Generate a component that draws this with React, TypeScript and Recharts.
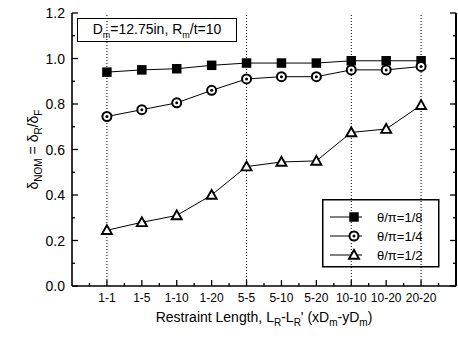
import { LineChart, Line, XAxis, YAxis, ReferenceLine } from "recharts";

const categories = ["1-1", "1-5", "1-10", "1-20", "5-5", "5-10", "5-20", "10-10", "10-20", "20-20"];
const theta18 = [0.94, 0.95, 0.955, 0.97, 0.98, 0.98, 0.98, 0.99, 0.99, 0.99];
const theta14 = [0.745, 0.775, 0.805, 0.86, 0.91, 0.92, 0.92, 0.95, 0.95, 0.965];
const theta12 = [0.245, 0.28, 0.31, 0.4, 0.525, 0.545, 0.55, 0.675, 0.69, 0.795];
const seriesNames = ["θ/π=1/8", "θ/π=1/4", "θ/π=1/2"];
const gridCats = ["1-1", "5-5", "10-10", "20-20"];
const yTicks = [0, 0.1, 0.2, 0.3, 0.4, 0.5, 0.6, 0.7, 0.8, 0.9, 1.0, 1.1, 1.2];
const xTicks = [0.5, 1, 1.5, 2, 2.5, 3, 3.5, 4, 4.5, 5, 5.5, 6, 6.5, 7, 7.5, 8, 8.5, 9, 9.5, 10, 10.5];

const data = categories.map((cat, i) => ({
  x: i + 1,
  cat,
  s18: theta18[i],
  s14: theta14[i],
  s12: theta12[i],
}));

const FONT = "'Liberation Sans', Arial, sans-serif";
const W = 458;
const H = 341;
const MARGIN = { top: 13, right: 2, bottom: 0, left: 0 };
const Y_AXIS_W = 72;
const PLOT_RIGHT = W - MARGIN.right;

const isMajorY = (v: number) => Math.round(v * 10) % 2 === 0;
const isMajorX = (v: number) => Number.isInteger(v);

// marker shapes
const Square = ({ cx, cy }: any) => (
  <rect x={cx - 4.75} y={cy - 4.75} width={9.5} height={9.5} fill="#000" />
);
const Circle = ({ cx, cy }: any) => (
  <g>
    <circle cx={cx} cy={cy} r={4.5} fill="#fff" stroke="#000" strokeWidth={2} />
    <circle cx={cx} cy={cy} r={1.5} fill="#000" />
  </g>
);
const Triangle = ({ cx, cy }: any) => (
  <path
    d={`M${cx},${cy - 5} L${cx + 5},${cy + 3.8} L${cx - 5},${cy + 3.8} Z`}
    fill="#fff"
    stroke="#000"
    strokeWidth={1.9}
    strokeLinejoin="miter"
  />
);
const markers = [Square, Circle, Triangle];

// left tick labels, inward ticks on both the left and right frame
const LeftTick = (props: any) => {
  const { x, y, payload } = props;
  const v = payload.value;
  const major = isMajorY(v);
  const ax = x + 7;
  const len = major ? 6 : 3;
  return (
    <g>
      <line x1={ax} x2={ax + len} y1={y} y2={y} stroke="#000" strokeWidth={1.3} />
      <line x1={PLOT_RIGHT} x2={PLOT_RIGHT - len} y1={y} y2={y} stroke="#000" strokeWidth={1.3} />
      {major && (
        <text x={x} y={y} dy="0.36em" textAnchor="end" fontSize={14} fontFamily={FONT} fill="#000">
          {v.toFixed(1)}
        </text>
      )}
    </g>
  );
};

const BottomTick = (props: any) => {
  const { x, y, payload } = props;
  const v = payload.value;
  const major = isMajorX(v);
  const ay = y - 7;
  return (
    <g>
      <line x1={x} x2={x} y1={ay} y2={ay - (major ? 6 : 3)} stroke="#000" strokeWidth={1.3} />
      {major && (
        <text x={x} y={y} dy="0.71em" textAnchor="middle" fontSize={12} fontFamily={FONT} fill="#000">
          {categories[v - 1]}
        </text>
      )}
    </g>
  );
};

const TopTick = (props: any) => {
  const { x, y, payload } = props;
  const major = isMajorX(payload.value);
  return <line x1={x} x2={x} y1={y} y2={y + (major ? 6 : 3)} stroke="#000" strokeWidth={1.3} />;
};

const YLabel = (props: any) => {
  const vb = props.viewBox || {};
  const cy = (vb.y || 0) + (vb.height || 0) / 2;
  const cx = 33;
  return (
    <text
      x={cx}
      y={cy}
      transform={`rotate(-90, ${cx}, ${cy})`}
      textAnchor="middle"
      dy="0.35em"
      fontSize={14}
      fontFamily={FONT}
      fill="#000"
    >
      δ<tspan fontSize={10} dy={4}>NOM</tspan>
      <tspan dy={-4}> = δ</tspan>
      <tspan fontSize={10} dy={4}>R</tspan>
      <tspan dy={-4}>/δ</tspan>
      <tspan fontSize={10} dy={4}>F</tspan>
    </text>
  );
};

const XLabel = (props: any) => {
  const vb = props.viewBox || {};
  const cx = (vb.x || 0) + (vb.width || 0) / 2;
  return (
    <text x={cx} y={322} textAnchor="middle" fontSize={14} fontFamily={FONT} fill="#000">
      Restraint Length, L<tspan fontSize={10} dy={4}>R</tspan>
      <tspan dy={-4}>-L</tspan>
      <tspan fontSize={10} dy={4}>R</tspan>
      <tspan dy={-4}>' (xD</tspan>
      <tspan fontSize={10} dy={4}>m</tspan>
      <tspan dy={-4}>-yD</tspan>
      <tspan fontSize={10} dy={4}>m</tspan>
      <tspan dy={-4}>)</tspan>
    </text>
  );
};

export default function App() {
  const keys = ["s18", "s14", "s12"];
  return (
    <div style={{ position: "relative", width: W, height: H, background: "#fff", overflow: "hidden" }}>
      <style>{`html,body{margin:0;padding:0;overflow:hidden;}`}</style>
      <LineChart width={W} height={H} data={data} margin={MARGIN}>
        <XAxis
          dataKey="x"
          type="number"
          domain={[0, 11]}
          ticks={xTicks}
          interval={0}
          height={55}
          tickSize={0}
          tickMargin={7}
          tickLine={false}
          tick={<BottomTick />}
          axisLine={{ stroke: "#000", strokeWidth: 1.6 }}
          label={<XLabel />}
        />
        <XAxis
          xAxisId="top"
          dataKey="x"
          type="number"
          orientation="top"
          domain={[0, 11]}
          ticks={xTicks}
          interval={0}
          height={0}
          tickSize={0}
          tickMargin={0}
          tickLine={false}
          tick={<TopTick />}
          axisLine={{ stroke: "#000", strokeWidth: 1.6 }}
        />
        <YAxis
          type="number"
          domain={[0, 1.2]}
          ticks={yTicks}
          interval={0}
          width={Y_AXIS_W}
          tickSize={0}
          tickMargin={7}
          tickLine={false}
          tick={<LeftTick />}
          axisLine={{ stroke: "#000", strokeWidth: 1.6 }}
          label={<YLabel />}
        />
        {gridCats.map((c) => (
          <ReferenceLine
            key={c}
            x={categories.indexOf(c) + 1}
            stroke="#000"
            strokeWidth={1}
            strokeDasharray="1 2"
          />
        ))}
        {/* right frame edge */}
        <ReferenceLine x={11} stroke="#000" strokeWidth={2} />
        {keys.map((k, i) => {
          const M = markers[i];
          return (
            <Line
              key={k}
              dataKey={k}
              type="linear"
              stroke="#000"
              strokeWidth={1}
              isAnimationActive={false}
              dot={(p: any) => <M key={`${k}-${p.index}`} cx={p.cx} cy={p.cy} />}
              activeDot={false}
            />
          );
        })}
      </LineChart>

      <div
        style={{
          position: "absolute",
          left: 77,
          top: 18,
          width: 160,
          height: 24,
          boxSizing: "border-box",
          border: "1.5px solid #000",
          fontFamily: FONT,
          fontSize: 14,
          lineHeight: "21px",
          textAlign: "center",
          color: "#000",
        }}
      >
        D<sub style={{ fontSize: 9 }}>m</sub>=12.75in, R<sub style={{ fontSize: 9 }}>m</sub>/t=10
      </div>

      <svg style={{ position: "absolute", left: 322, top: 199 }} width={118} height={69}>
        <rect x={0.75} y={0.75} width={116} height={67} fill="none" stroke="#000" strokeWidth={1.5} />
        {seriesNames.map((name, i) => {
          const M = markers[i];
          const ry = 18 + i * 19;
          return (
            <g key={name}>
              <line x1={8} x2={40} y1={ry} y2={ry} stroke="#000" strokeWidth={1} />
              <M cx={32} cy={ry} />
              <text x={55} y={ry} dy="0.36em" fontSize={13} fontFamily={FONT} fill="#000">
                {name}
              </text>
            </g>
          );
        })}
      </svg>
    </div>
  );
}
